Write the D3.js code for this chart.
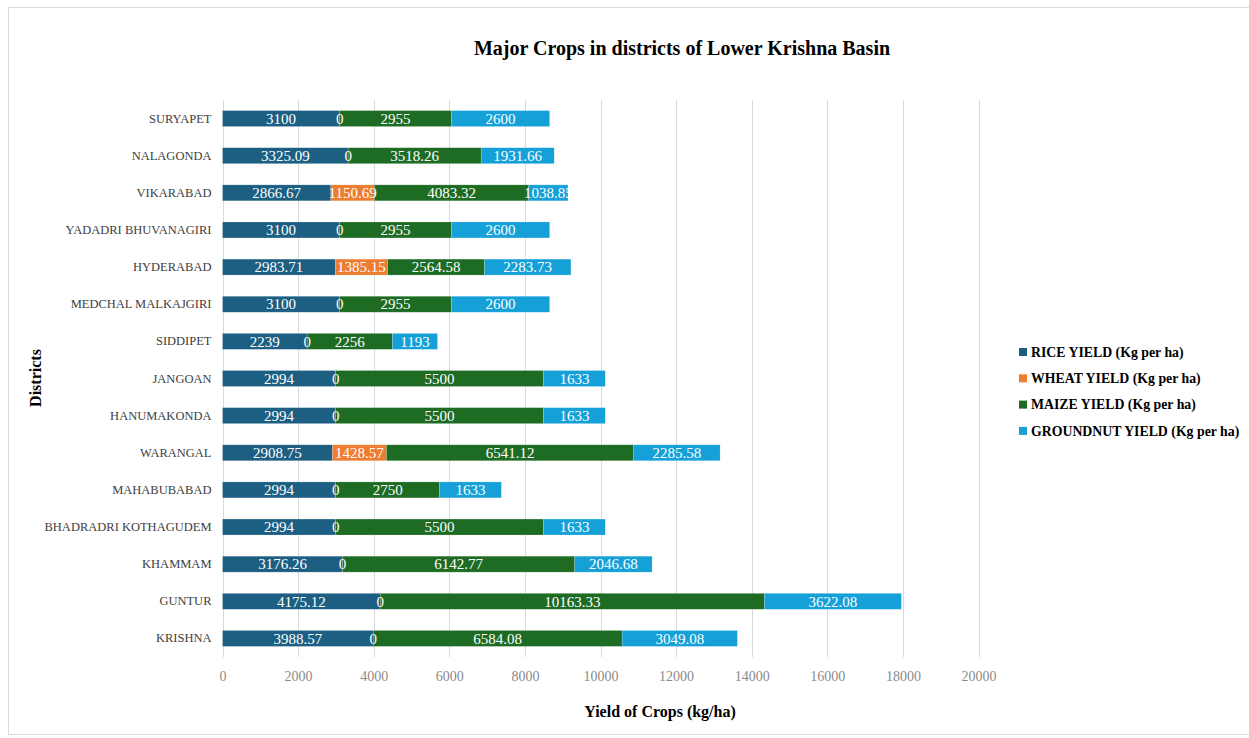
<!DOCTYPE html>
<html>
<head>
<meta charset="utf-8">
<script src="https://cdn.jsdelivr.net/npm/d3@7"></script>
<style>
  html, body { margin: 0; padding: 0; background: #fff; }
  svg { display: block; }
</style>
</head>
<body>
<svg id="chart" width="1249" height="738"></svg>
<script>
// District names, top to bottom
const districts = [
  "SURYAPET", "NALAGONDA", "VIKARABAD", "YADADRI BHUVANAGIRI", "HYDERABAD",
  "MEDCHAL MALKAJGIRI", "SIDDIPET", "JANGOAN", "HANUMAKONDA", "WARANGAL",
  "MAHABUBABAD", "BHADRADRI KOTHAGUDEM", "KHAMMAM", "GUNTUR", "KRISHNA"
];

// Yields in kg per ha for each district (same order as above)
const riceYield = [3100, 3325.09, 2866.67, 3100, 2983.71, 3100, 2239, 2994, 2994, 2908.75, 2994, 2994, 3176.26, 4175.12, 3988.57];
const wheatYield = [0, 0, 1150.69, 0, 1385.15, 0, 0, 0, 0, 1428.57, 0, 0, 0, 0, 0];
const maizeYield = [2955, 3518.26, 4083.32, 2955, 2564.58, 2955, 2256, 5500, 5500, 6541.12, 2750, 5500, 6142.77, 10163.33, 6584.08];
const groundnutYield = [2600, 1931.66, 1038.85, 2600, 2283.73, 2600, 1193, 1633, 1633, 2285.58, 1633, 1633, 2046.68, 3622.08, 3049.08];

const seriesNames = [
  "RICE YIELD (Kg per ha)",
  "WHEAT YIELD (Kg per ha)",
  "MAIZE YIELD (Kg per ha)",
  "GROUNDNUT YIELD (Kg per ha)"
];
const seriesColors = ["#1d5f82", "#ed7d31", "#1e6b24", "#15a1d8"];
const xTicks = [0, 2000, 4000, 6000, 8000, 10000, 12000, 14000, 16000, 18000, 20000];

const seriesValues = [riceYield, wheatYield, maizeYield, groundnutYield];
const rows = districts.map((d, i) => {
  const r = { district: d };
  seriesNames.forEach((s, k) => { r[s] = seriesValues[k][i]; });
  return r;
});

const svg = d3.select("#chart");
const serif = "'Liberation Serif', 'DejaVu Serif', serif";

// chart frame
svg.append("rect")
  .attr("x", 8.5).attr("y", 7.5)
  .attr("width", 1260).attr("height", 727)
  .attr("fill", "#fff").attr("stroke", "#d9d9d9").attr("stroke-width", 1);

const plot = { left: 222.5, right: 978.5, top: 100, bottom: 657 };

const x = d3.scaleLinear().domain([0, 20000]).range([plot.left, plot.right]);
const y = d3.scaleBand().domain(districts).range([plot.top, plot.bottom]).paddingInner(0.57).paddingOuter(0.285);

// vertical gridlines
svg.append("g")
  .selectAll("line")
  .data(xTicks)
  .join("line")
  .attr("x1", d => Math.round(x(d)) + 0.5)
  .attr("x2", d => Math.round(x(d)) + 0.5)
  .attr("y1", plot.top).attr("y2", plot.bottom)
  .attr("stroke", "#d9d9d9").attr("stroke-width", 1);

// stacked bars
const stack = d3.stack().keys(seriesNames);
const layers = stack(rows);

const color = d3.scaleOrdinal().domain(seriesNames).range(seriesColors);

const layerG = svg.append("g")
  .selectAll("g")
  .data(layers)
  .join("g")
  .attr("fill", d => color(d.key));

layerG.selectAll("rect")
  .data(d => d.filter(s => s[1] > s[0]))
  .join("rect")
  .attr("x", d => x(d[0]))
  .attr("y", d => y(d.data.district))
  .attr("width", d => x(d[1]) - x(d[0]))
  .attr("height", y.bandwidth())
  .attr("stroke", "rgba(255,255,255,0.3)")
  .attr("stroke-width", 0.6);

// value labels centred in each segment
const labelG = svg.append("g");
layers.forEach(layer => {
  labelG.selectAll(null)
    .data(layer)
    .join("text")
    .attr("x", d => (x(d[0]) + x(d[1])) / 2)
    .attr("y", d => y(d.data.district) + y.bandwidth() / 2)
    .attr("dy", "0.35em")
    .attr("text-anchor", "middle")
    .attr("fill", "#ffffff")
    .attr("font-family", serif)
    .attr("font-size", 15)
    .text(d => d3.format("")(+(d[1] - d[0]).toFixed(2)));
});

// y axis (district names)
const yAxis = d3.axisLeft(y).tickSize(0).tickPadding(11);
const yg = svg.append("g").attr("transform", `translate(${plot.left},0)`).call(yAxis);
yg.select(".domain").remove();
yg.selectAll("text")
  .attr("font-family", serif).attr("font-size", 12.5).attr("fill", "#404040");

// x axis
const xAxis = d3.axisBottom(x).tickValues(xTicks).tickSize(0).tickPadding(14).tickFormat(d3.format("d"));
const xg = svg.append("g").attr("transform", `translate(0,${plot.bottom})`).call(xAxis);
xg.select(".domain").remove();
xg.selectAll("text")
  .attr("font-family", serif).attr("font-size", 14).attr("fill", "#8a8a8a");

// title
svg.append("text")
  .attr("x", 682).attr("y", 55)
  .attr("text-anchor", "middle")
  .attr("font-family", serif).attr("font-weight", "bold").attr("font-size", 20)
  .attr("fill", "#000")
  .text("Major Crops in districts of Lower Krishna Basin");

// axis titles
svg.append("text")
  .attr("x", 660).attr("y", 717)
  .attr("text-anchor", "middle")
  .attr("font-family", serif).attr("font-weight", "bold").attr("font-size", 16)
  .attr("fill", "#000")
  .text("Yield of Crops (kg/ha)");

svg.append("text")
  .attr("transform", "translate(41,378) rotate(-90)")
  .attr("text-anchor", "middle")
  .attr("font-family", serif).attr("font-weight", "bold").attr("font-size", 16)
  .attr("fill", "#000")
  .text("Districts");

// legend
const legend = svg.append("g").attr("transform", "translate(1019,352)");
const item = legend.selectAll("g")
  .data(seriesNames)
  .join("g")
  .attr("transform", (d, i) => `translate(0,${i * 26.3})`);
item.append("rect")
  .attr("x", 0).attr("y", -4).attr("width", 8).attr("height", 8)
  .attr("fill", d => color(d));
item.append("text")
  .attr("x", 12).attr("dy", "0.35em")
  .attr("font-family", serif).attr("font-weight", "bold").attr("font-size", 13.8)
  .attr("fill", "#000")
  .text(d => d);
</script>
</body>
</html>
